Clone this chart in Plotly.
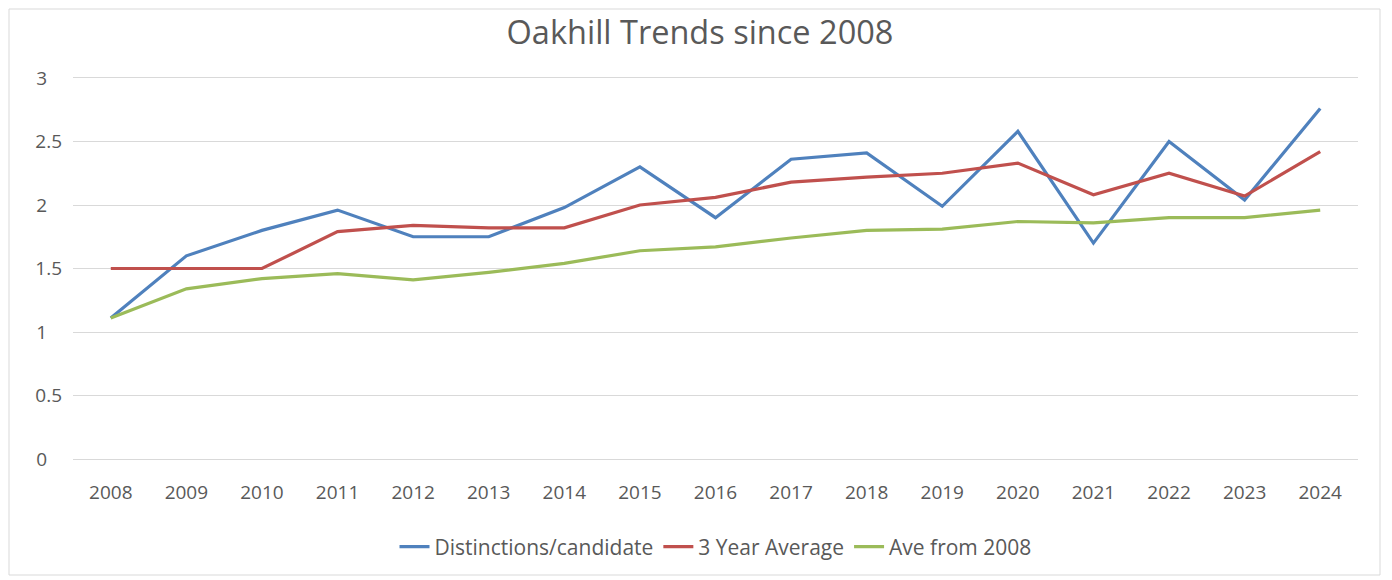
import plotly.graph_objects as go

years = [str(y) for y in range(2008, 2025)]
distinctions = [1.11, 1.60, 1.80, 1.96, 1.75, 1.75, 1.98, 2.30, 1.90, 2.36, 2.41, 1.99, 2.58, 1.70, 2.50, 2.04, 2.76]
three_year_avg = [1.50, 1.50, 1.50, 1.79, 1.84, 1.82, 1.82, 2.00, 2.06, 2.18, 2.22, 2.25, 2.33, 2.08, 2.25, 2.07, 2.42]
ave_from_2008 = [1.11, 1.34, 1.42, 1.46, 1.41, 1.47, 1.54, 1.64, 1.67, 1.74, 1.80, 1.81, 1.87, 1.86, 1.90, 1.90, 1.96]
y_ticks = [0, 0.5, 1, 1.5, 2, 2.5, 3]
y_tick_labels = ["0\u00a0\u00a0\u00a0", "0.5", "1\u00a0\u00a0\u00a0", "1.5", "2\u00a0\u00a0\u00a0", "2.5", "3\u00a0\u00a0\u00a0"]

font_family = "Open Sans, Noto Sans, sans-serif"
W, H = 1384, 572
L, R, T, B = 65, 34, 70, 121
PW, PH = W - L - R, H - T - B

fig = go.Figure()
fig.add_trace(go.Scatter(x=years, y=distinctions, mode="lines", name="Distinctions/candidate",
                         line=dict(color="#4F81BD", width=3.2)))
fig.add_trace(go.Scatter(x=years, y=three_year_avg, mode="lines", name="3 Year Average",
                         line=dict(color="#C0504D", width=3.2)))
fig.add_trace(go.Scatter(x=years, y=ave_from_2008, mode="lines", name="Ave from 2008",
                         line=dict(color="#9BBB59", width=3.2)))

fig.update_layout(
    width=W, height=H,
    margin=dict(l=L, r=R, t=T, b=B),
    paper_bgcolor="white", plot_bgcolor="white",
    font=dict(family=font_family, color="#595959", size=19),
    title=dict(text="Oakhill Trends since 2008", x=0.5, xanchor="center", y=1 - 25 / H, yanchor="middle",
               font=dict(family=font_family, size=32.5, color="#595959")),
    showlegend=True,
    legend=dict(orientation="h", x=0.5, xanchor="center", y=-88 / PH, yanchor="middle",
                font=dict(size=21, color="#595959"), traceorder="normal"),
    xaxis=dict(type="category", range=[-0.5, 16.5], showgrid=False, zeroline=False,
               showline=True, mirror=True, linecolor="#D9D9D9", linewidth=1.3,
               ticks="", ticklabelstandoff=16, tickfont=dict(size=19, color="#595959")),
    yaxis=dict(range=[0, 3], tickvals=y_ticks, ticktext=y_tick_labels, showgrid=True,
               gridcolor="#D9D9D9", gridwidth=1.3, zeroline=False, showline=False, ticks="",
               ticklabelstandoff=10, tickfont=dict(size=19, color="#595959")),
    shapes=[dict(type="rect", xref="paper", yref="paper",
                 x0=-64 / PW, x1=(1372 - L) / PW, y0=-116 / PH, y1=1 + 69 / PH,
                 line=dict(color="#D9D9D9", width=1), fillcolor="rgba(0,0,0,0)", layer="below")],
)

fig.write_html("out.html")
